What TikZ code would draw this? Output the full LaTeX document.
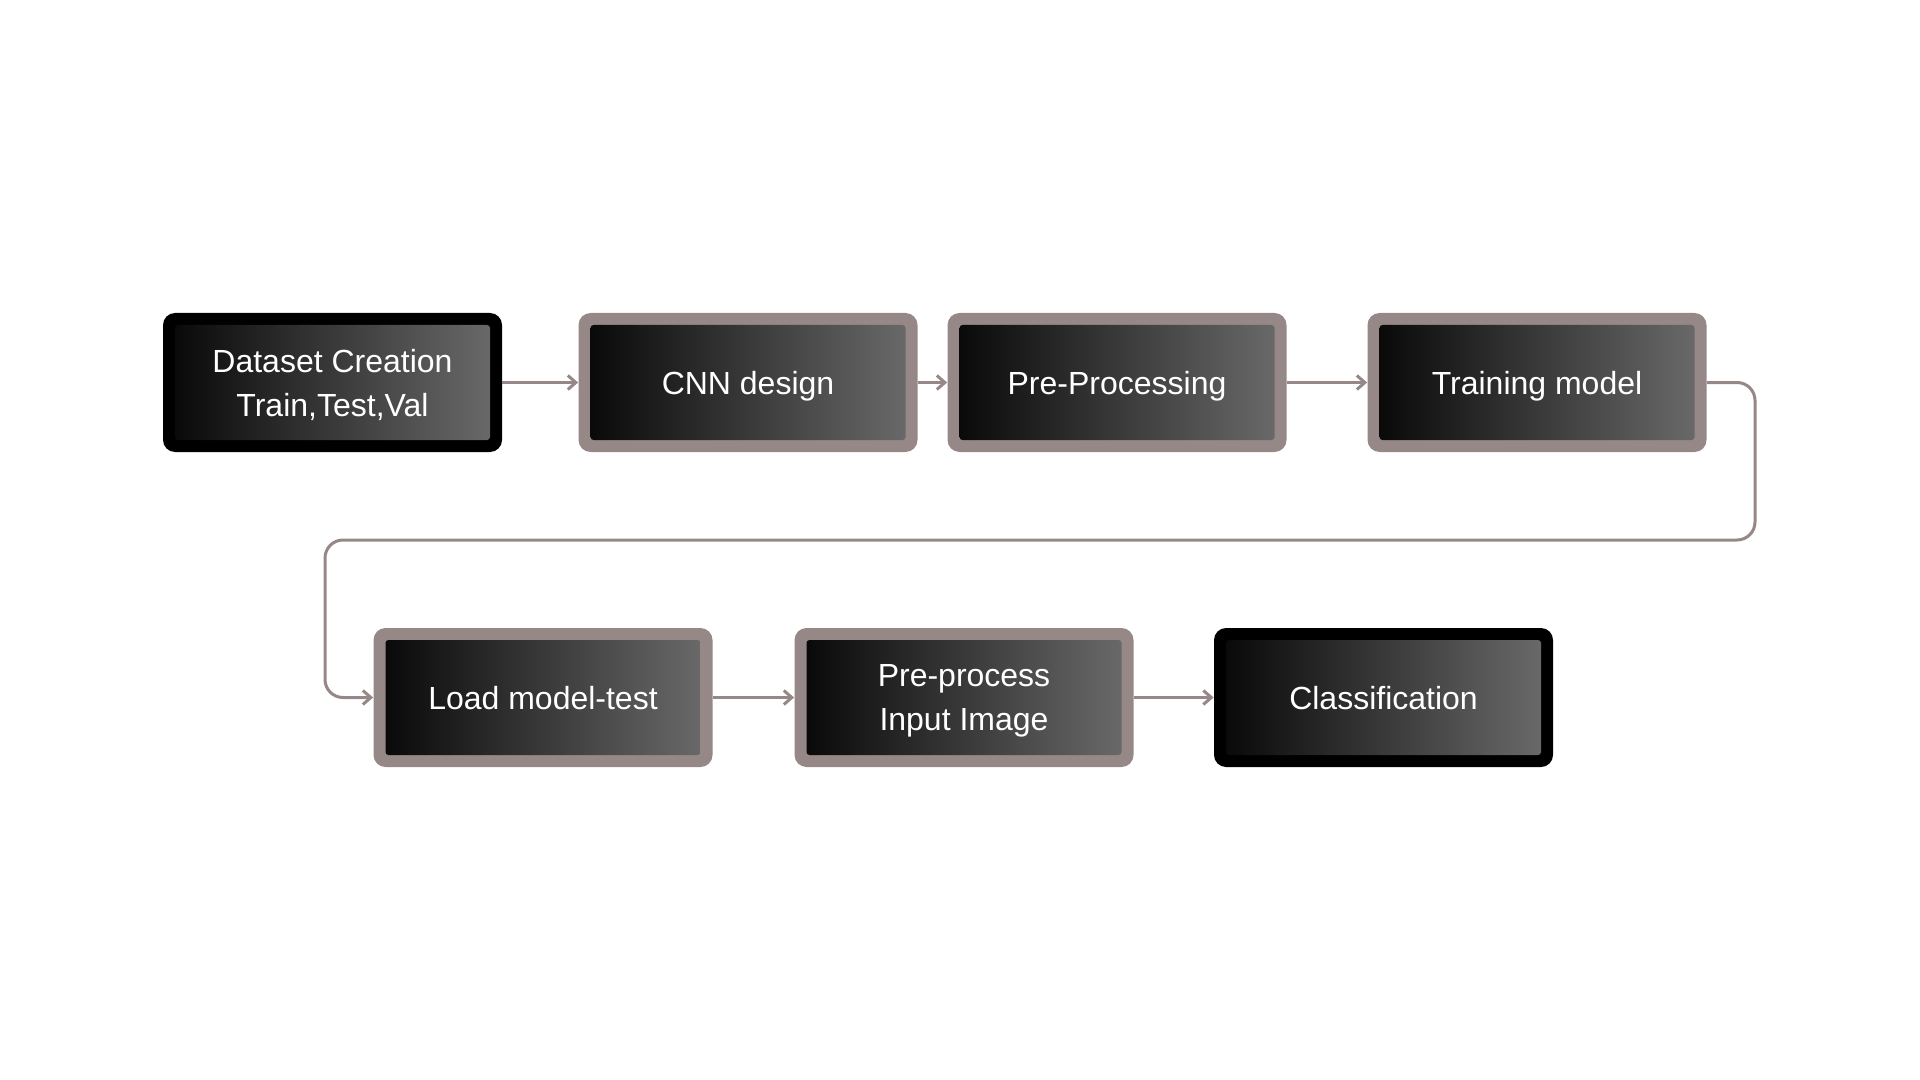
\documentclass[tikz,border=0pt]{standalone}
\usepackage{fontspec}
\setmainfont{Liberation Sans}
\usepackage{tikz}
\usetikzlibrary{arrows.meta}
\definecolor{rim}{RGB}{150,136,134}
\definecolor{shadeL}{RGB}{6,6,6}
\definecolor{shadeR}{RGB}{108,108,108}
\tikzstyle{stage}=[rectangle, rounded corners=6pt, fill=rim, inner sep=0pt,
                   minimum width=169.5pt, minimum height=69.5pt, text depth=0pt,
                   text=white, align=center, font=\fontsize{16}{22}\selectfont,
                   path picture={\shade[left color=shadeL, right color=shadeR, rounded corners=1.5pt]
                     ([shift={(6pt,6pt)}]path picture bounding box.south west) rectangle
                     ([shift={(-6pt,-6pt)}]path picture bounding box.north east);}]
\tikzstyle{stageblack}=[stage, fill=black]
\tikzstyle{flow}=[draw=rim, line width=1.5pt, -{Straight Barb[length=4pt,width=7pt]}]

\begin{document}
\begin{tikzpicture}[x=0.5pt,y=-0.5pt]
      \useasboundingbox (0,0) rectangle (1920,1080);
      % first row
      \node[stageblack] (dataset) at (332.5,382.5) {Dataset Creation\\Train,Test,Val};
      \node[stage] (cnn) at (748,382.5) {CNN design};
      \node[stage] (prep) at (1117,382.5) {Pre-Processing};
      \node[stage] (train) at (1537,382.5) {Training model};
      % second row
      \node[stage] (load) at (543,697.5) {Load model-test};
      \node[stage] (input) at (964,697.5) {Pre-process\\Input Image};
      \node[stageblack] (classify) at (1383.5,697.5) {Classification};
      \coordinate (loopR) at (1755,540);
      \coordinate (loopL) at (325,540);
	\draw[flow] (dataset)--(cnn);
	\draw[flow] (cnn)--(prep);
	\draw[flow] (prep)--(train);
	\draw[flow, rounded corners=9pt] (train.east) -| (loopR) -- (loopL) |- (load.west);
	\draw[flow] (load)--(input);
	\draw[flow] (input)--(classify);
    \end{tikzpicture}
\end{document}
